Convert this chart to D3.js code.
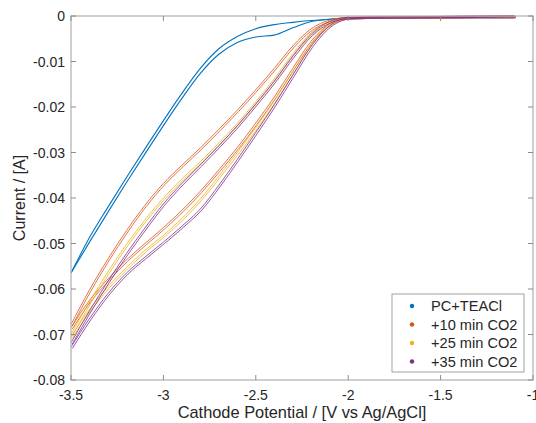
<!DOCTYPE html>
<html>
<head>
<meta charset="utf-8">
<script src="https://cdn.jsdelivr.net/npm/d3@7"></script>
<style>
  body { margin: 0; background: #fff; }
  text { font-family: "Liberation Sans", Arial, sans-serif; fill: #262626; }
</style>
</head>
<body>
<div id="viz-container"></div>
<script>
var potential = [-3.5, -3.4, -3.3, -3.2, -3.1, -3.0, -2.9, -2.8, -2.7, -2.6, -2.5, -2.4, -2.3, -2.2, -2.1, -2.0, -1.8, -1.5, -1.3, -1.1];

// PC+TEACl, two branches
var pcUpper = [-0.0565, -0.0487, -0.0420, -0.0355, -0.0292, -0.0230, -0.0170, -0.0115, -0.0072, -0.0045, -0.0028, -0.0019, -0.0014, -0.0010, -0.0007, -0.0005, -0.0004, -0.0004, -0.0004, -0.0004];
var pcLower = [-0.0565, -0.0497, -0.0431, -0.0366, -0.0303, -0.0241, -0.0181, -0.0126, -0.0084, -0.0058, -0.0046, -0.0042, -0.0026, -0.0012, -0.0007, -0.0005, -0.0004, -0.0004, -0.0004, -0.0004];
// +10 min CO2
var co10Upper = [-0.0678, -0.0602, -0.0534, -0.0472, -0.0416, -0.0368, -0.0328, -0.0290, -0.0249, -0.0207, -0.0162, -0.0115, -0.0066, -0.0028, -0.0009, -0.0003, -0.0002, -0.0002, -0.0001, -0.0001];
var co10Lower = [-0.0685, -0.0625, -0.0578, -0.0536, -0.0500, -0.0465, -0.0427, -0.0385, -0.0338, -0.0289, -0.0235, -0.0178, -0.0115, -0.0055, -0.0017, -0.0004, -0.0002, -0.0002, -0.0001, -0.0001];
// +25 min CO2
var co25Upper = [-0.0700, -0.0628, -0.0562, -0.0502, -0.0448, -0.0400, -0.0358, -0.0320, -0.0279, -0.0236, -0.0188, -0.0138, -0.0083, -0.0037, -0.0011, -0.0003, -0.0002, -0.0001, 0.0000, 0.0000];
var co25Lower = [-0.0705, -0.0645, -0.0595, -0.0553, -0.0515, -0.0482, -0.0445, -0.0402, -0.0352, -0.0300, -0.0245, -0.0186, -0.0122, -0.0060, -0.0018, -0.0004, -0.0002, -0.0001, 0.0000, 0.0001];
// +35 min CO2
var co35Upper = [-0.0718, -0.0648, -0.0583, -0.0522, -0.0466, -0.0413, -0.0368, -0.0327, -0.0285, -0.0241, -0.0193, -0.0143, -0.0088, -0.0040, -0.0012, -0.0003, -0.0002, -0.0001, 0.0000, 0.0001];
var co35Lower = [-0.0728, -0.0665, -0.0610, -0.0565, -0.0530, -0.0497, -0.0462, -0.0424, -0.0372, -0.0315, -0.0256, -0.0195, -0.0130, -0.0066, -0.0021, -0.0004, -0.0002, -0.0001, 0.0000, 0.0001];

var seriesNames = ["PC+TEACl", "+10 min CO2", "+25 min CO2", "+35 min CO2"];
var seriesColors = ["#0072BD", "#D95319", "#EDB120", "#7E2F8E"];
var xTicks = [-3.5, -3, -2.5, -2, -1.5, -1];
var yTicks = [0, -0.01, -0.02, -0.03, -0.04, -0.05, -0.06, -0.07, -0.08];

var width = 536, height = 423;
var margin = {top: 16, right: 3, bottom: 43, left: 71};

var svg = d3.select("#viz-container").append("svg")
    .attr("width", width)
    .attr("height", height);

var x = d3.scaleLinear().domain([-3.5, -1]).range([margin.left, width - margin.right]);
var y = d3.scaleLinear().domain([-0.08, 0]).range([height - margin.bottom, margin.top]);

var series = [
    {name: seriesNames[0], color: seriesColors[0], branches: [pcUpper, pcLower], doubled: false},
    {name: seriesNames[1], color: seriesColors[1], branches: [co10Upper, co10Lower], doubled: true},
    {name: seriesNames[2], color: seriesColors[2], branches: [co25Upper, co25Lower], doubled: true},
    {name: seriesNames[3], color: seriesColors[3], branches: [co35Upper, co35Lower], doubled: true}
];

var line = d3.line()
    .x(function(d) { return x(d[0]); })
    .y(function(d) { return y(d[1]); })
    .curve(d3.curveMonotoneX);

svg.append("clipPath").attr("id", "plotclip")
    .append("rect")
    .attr("x", margin.left).attr("y", margin.top - 2)
    .attr("width", width - margin.left - margin.right)
    .attr("height", height - margin.top - margin.bottom + 2);

var plot = svg.append("g").attr("clip-path", "url(#plotclip)");

series.forEach(function(s) {
    var g = plot.append("g");
    s.branches.forEach(function(b) {
        var pts = potential.map(function(v, i) { return [v, b[i]]; });
        // second scan cycle sits just beside the first one
        var copies = s.doubled ? [[0, 0], [1.3, 1.3]] : [[0, 0]];
        copies.forEach(function(off) {
            g.append("path")
                .attr("d", line(pts))
                .attr("transform", "translate(" + off[0] + "," + off[1] + ")")
                .attr("fill", "none")
                .attr("stroke", s.color)
                .attr("stroke-width", s.doubled ? 0.8 : 1.1);
        });
    });
});

// box and ticks, matlab style
var axisColor = "#b5b5b5";
var x0 = margin.left, x1 = width - margin.right, y0 = margin.top, y1 = height - margin.bottom;
svg.append("rect")
    .attr("x", x0).attr("y", y0)
    .attr("width", x1 - x0).attr("height", y1 - y0)
    .attr("fill", "none")
    .attr("stroke", axisColor)
    .attr("stroke-width", 1.3);

var tl = 5;
xTicks.forEach(function(t) {
    var px = x(t);
    svg.append("line").attr("x1", px).attr("x2", px).attr("y1", y1).attr("y2", y1 - tl).attr("stroke", "#8c8c8c");
    svg.append("line").attr("x1", px).attr("x2", px).attr("y1", y0).attr("y2", y0 + tl).attr("stroke", "#8c8c8c");
    svg.append("text")
        .attr("x", px).attr("y", y1 + 20)
        .attr("text-anchor", "middle")
        .attr("font-size", 14)
        .text(t);
});
yTicks.forEach(function(t) {
    var py = y(t);
    svg.append("line").attr("x1", x0).attr("x2", x0 + tl).attr("y1", py).attr("y2", py).attr("stroke", "#8c8c8c");
    svg.append("line").attr("x1", x1).attr("x2", x1 - tl).attr("y1", py).attr("y2", py).attr("stroke", "#8c8c8c");
    svg.append("text")
        .attr("x", x0 - 6).attr("y", py + 5)
        .attr("text-anchor", "end")
        .attr("font-size", 14)
        .text(t);
});

svg.append("text")
    .attr("x", 302).attr("y", 418)
    .attr("text-anchor", "middle")
    .attr("font-size", 16.4)
    .text("Cathode Potential / [V vs Ag/AgCl]");

svg.append("text")
    .attr("transform", "translate(25," + ((y0 + y1) / 2) + ") rotate(-90)")
    .attr("text-anchor", "middle")
    .attr("font-size", 16)
    .text("Current / [A]");

// legend
var lg = svg.append("g").attr("transform", "translate(392,294)");
lg.append("rect")
    .attr("width", 132).attr("height", 78)
    .attr("fill", "#fff")
    .attr("stroke", "#8c8c8c")
    .attr("stroke-width", 0.8);
series.forEach(function(s, i) {
    lg.append("circle")
        .attr("cx", 20).attr("cy", 12 + i * 18.5)
        .attr("r", 2.2)
        .attr("fill", s.color);
    lg.append("text")
        .attr("x", 39).attr("y", 17 + i * 18.5)
        .attr("font-size", 14.6)
        .text(s.name);
});
</script>
</body>
</html>
